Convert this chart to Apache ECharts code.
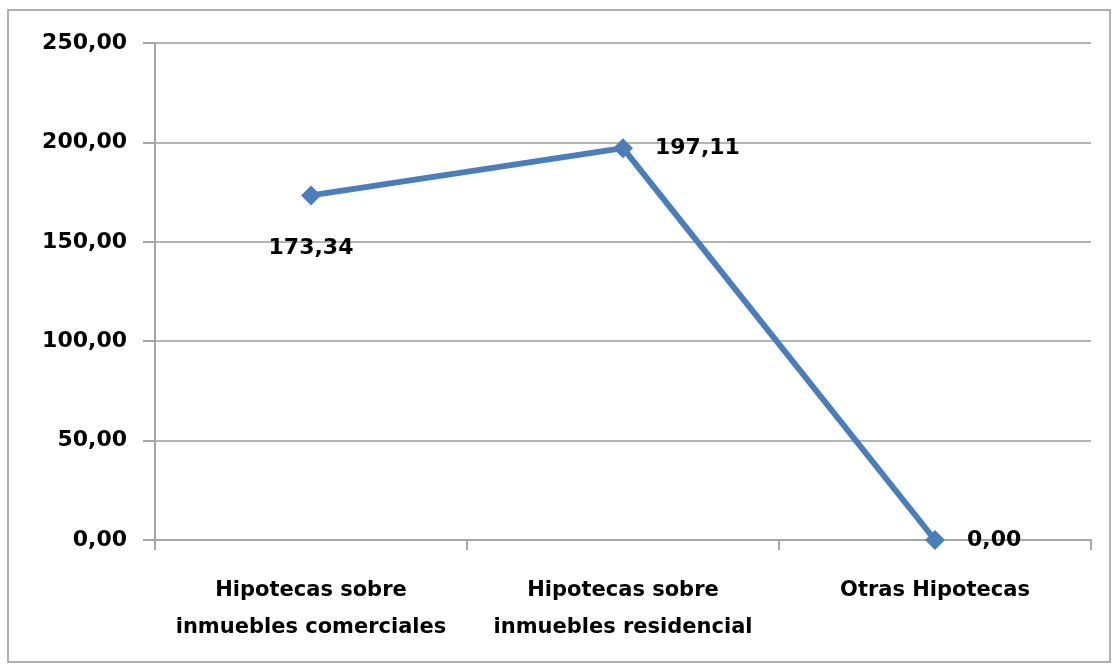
<!DOCTYPE html>
<html><head><meta charset="utf-8">
<script src="https://cdn.jsdelivr.net/npm/echarts@6/dist/echarts.min.js"></script>
<style>html,body{margin:0;padding:0;background:#fff}#frame{position:absolute;left:7px;top:9px;width:1104px;height:654px;border:2px solid #b0b0b0;box-sizing:border-box}#c{position:absolute;left:0;top:0;width:1119px;height:671px}</style>
</head><body><div id="frame"></div><div id="c"></div>
<script>
const categories = ['Hipotecas sobre\ninmuebles comerciales', 'Hipotecas sobre\ninmuebles residencial', 'Otras Hipotecas'];
const values = [173.34, 197.11, 0.00];
const labelPositions = ['bottom', 'right', 'right'];

const fmt = v => v.toFixed(2).replace('.', ',');
const chart = echarts.init(document.getElementById('c'));
chart.setOption({
  animation: false,
  grid: {left: 155, right: 28, top: 43, bottom: 131},
  xAxis: {
    type: 'category', data: categories, boundaryGap: true,
    axisLine: {lineStyle: {color: '#a6a6a6', width: 2}},
    axisTick: {show: true, length: 10, lineStyle: {color: '#a6a6a6', width: 2}},
    axisLabel: {color: '#000', fontFamily: 'DejaVu Sans', fontWeight: 'bold', fontSize: 21, lineHeight: 37, margin: 32, interval: 0}
  },
  yAxis: {
    type: 'value', min: 0, max: 250, interval: 50,
    axisLine: {show: true, lineStyle: {color: '#a6a6a6', width: 2}},
    axisTick: {show: true, length: 12, lineStyle: {color: '#a6a6a6', width: 2}},
    splitLine: {lineStyle: {color: '#b4b4b4', width: 2}},
    axisLabel: {color: '#000', fontFamily: 'DejaVu Sans', fontWeight: 'bold', fontSize: 22, margin: 28, formatter: v => fmt(v)}
  },
  series: [{
    type: 'line', data: values.map((v, i) => ({value: v, label: {position: labelPositions[i], distance: i === 0 ? 32 : 22}})),
    symbol: 'diamond', symbolSize: 20,
    lineStyle: {color: '#4a7ebb', width: 6},
    itemStyle: {color: '#4a7ebb'},
    label: {show: true, color: '#000', fontFamily: 'DejaVu Sans', fontWeight: 'bold', fontSize: 22, formatter: p => fmt(p.value)}
  }]
});
</script></body></html>
